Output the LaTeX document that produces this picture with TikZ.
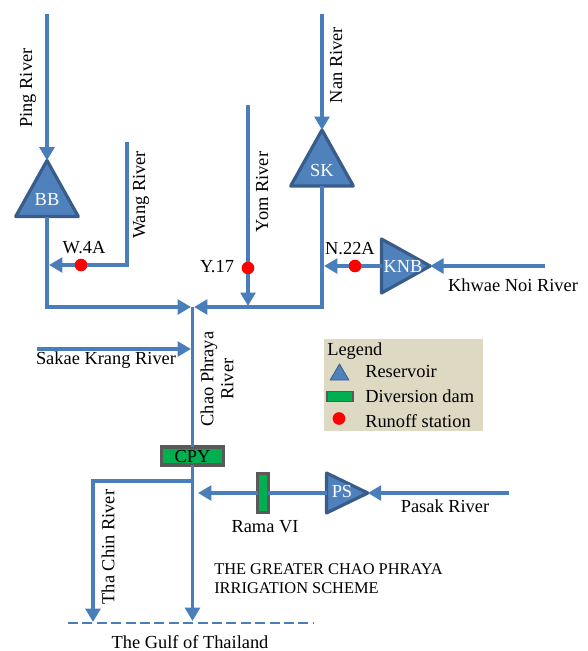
\documentclass[tikz,border=0pt]{standalone}
\usepackage{fontspec}
\setmainfont{Liberation Serif}
\usetikzlibrary{arrows.meta,shapes.geometric}
\definecolor{riverblue}{HTML}{4A7EBB}
\definecolor{resfill}{HTML}{4F81BD}
\definecolor{resedge}{HTML}{385D8A}
\definecolor{damgreen}{HTML}{00B050}
\definecolor{damedge}{HTML}{595959}
\definecolor{legendbg}{HTML}{DDD9C3}
\tikzset{
  river/.style={draw=riverblue, line width=2.6pt, line join=miter},
  flow/.style={river, -{Triangle[length=10pt,width=11pt]}},
  reservoir/.style={isosceles triangle, isosceles triangle stretches,
    draw=resedge, fill=resfill, line width=2.4pt, line join=round, inner sep=0pt, outer sep=0pt},
  damblock/.style={rectangle, draw=damedge, fill=damgreen, line width=2.4pt, inner sep=0pt, outer sep=0pt,
    font=\fontsize{13.8}{15}\selectfont},
  station/.style={circle, fill=red, inner sep=0pt, outer sep=0pt, minimum size=9.5pt},
  lbl/.style={font=\fontsize{13.8}{15}\selectfont, inner sep=0pt},
  reslbl/.style={lbl, text=white},
}
\begin{document}
\begin{tikzpicture}[x=0.75pt,y=-0.75pt]
  \useasboundingbox (0,0) rectangle (587,651);
  % legend
  \node[fill=legendbg, minimum width=119.25pt, minimum height=69pt, inner sep=0pt] (legendbox) at (403.5,385) {};
  \node[lbl, anchor=west] (legendtitle) at (327,351) {Legend};
  \node[reservoir, minimum width=14pt, minimum height=12pt, line width=0.6pt, anchor=lower side, shape border rotate=90] (legres) at (339.5,380) {};
  \node[damblock, minimum width=19.5pt, minimum height=7.5pt, line width=1pt] (legdam) at (340,396.5) {};
  \node[station] (legrun) at (339,418.5) {};
  \node[lbl, anchor=west] (legrestext) at (365,371) {Reservoir};
  \node[lbl, anchor=west] (legdamtext) at (365,396) {Diversion dam};
  \node[lbl, anchor=west] (legruntext) at (365,421) {Runoff station};
  % reservoirs
  \node[reservoir, shape border rotate=90, minimum width=47pt, minimum height=42pt, anchor=lower side] (BB) at (47,216.5) {};
  \node[reservoir, shape border rotate=90, minimum width=47pt, minimum height=42pt, anchor=lower side] (SK) at (322,186) {};
  \node[reservoir, minimum width=40.5pt, minimum height=36.5pt, anchor=lower side] (KNB) at (381.5,266) {};
  \node[reservoir, minimum width=30pt, minimum height=31pt, anchor=lower side] (PS) at (326.5,493) {};
  \node[reslbl] (BBlbl) at (47,199) {BB};
  \node[reslbl] (SKlbl) at (322,170) {SK};
  \node[reslbl] (KNBlbl) at (403,266) {KNB};
  \node[reslbl] (PSlbl) at (342,491) {PS};
  % dams and stations
  \node[damblock, minimum width=46pt, minimum height=13.5pt] (CPY) at (192.5,456) {CPY};
  \node[damblock, minimum width=8pt, minimum height=29pt] (RamaVI) at (263,493) {};
  \node[station] (W4A) at (81,265) {};
  \node[station] (Y17) at (248,268) {};
  \node[station] (N22A) at (355,266) {};
  % free ends
  \coordinate (pingtop) at (47,14);
  \coordinate (nantop) at (322,14);
  \coordinate (wangtop) at (127,142);
  \coordinate (wangbend) at (127,265);
  \coordinate (wangend) at (49,265);
  \coordinate (yomtop) at (248,105);
  \coordinate (yomend) at (248,306);
  \coordinate (bbbend) at (47,307);
  \coordinate (skbend) at (322,307);
  \coordinate (jleft) at (191,307);
  \coordinate (jright) at (194,307);
  \coordinate (cprtop) at (192.5,307);
  \coordinate (knbend) at (324,266);
  \coordinate (khwae) at (545,266);
  \coordinate (sakae) at (37,349);
  \coordinate (sakaeend) at (191,349);
  \coordinate (split) at (192.5,481);
  \coordinate (thachin) at (93,481);
  \coordinate (thaend) at (93,622);
  \coordinate (cprend) at (192.5,621);
  \coordinate (ramaend) at (198,493);
  \coordinate (pasak) at (509,493);
  \coordinate (gulfl) at (68,623);
  \coordinate (gulfr) at (313,623);
  % rivers
  \draw[flow] (pingtop) -- (BB.apex);
  \draw[flow] (nantop) -- (SK.apex);
  \draw[flow] (khwae) -- (KNB.apex);
  \draw[flow] (pasak) -- (PS.apex);
  \draw[flow] (BB.lower side) -- (bbbend) -- (jleft);
  \draw[flow] (SK.lower side) -- (skbend) -- (jright);
  \draw[river] (wangtop) -- (wangbend) -- (W4A);
  \draw[flow] (W4A) -- (wangend);
  \draw[river] (yomtop) -- (Y17);
  \draw[flow] (Y17) -- (yomend);
  \draw[river] (KNB.lower side) -- (N22A);
  \draw[flow] (N22A) -- (knbend);
  \draw[flow] (sakae) -- (sakaeend);
  \draw[river] (cprtop) -- (CPY);
  \draw[flow] (CPY) -- (cprend);
  \draw[flow] (split) -- (thachin) -- (thaend);
  \draw[river] (PS.lower side) -- (RamaVI);
  \draw[flow] (RamaVI) -- (ramaend);
  \draw[river, dash pattern=on 7.5pt off 3.3pt, line width=2.2pt] (gulfl) -- (gulfr);
  % labels
  \node[lbl, rotate=90] (pinglbl) at (28,88) {Ping River};
  \node[lbl, rotate=90] (nanlbl) at (336,65) {Nan River};
  \node[lbl, rotate=90] (wanglbl) at (141,195) {Wang River};
  \node[lbl, rotate=90] (yomlbl) at (262,192) {Yom River};
  \node[lbl, rotate=90, align=center] (chaolbl) at (217,379) {Chao Phraya\\River};
  \node[lbl, rotate=90] (thalbl) at (108,547) {Tha Chin River};
  \node[lbl] (w4albl) at (84,248) {W.4A};
  \node[lbl] (y17lbl) at (217,267) {Y.17};
  \node[lbl] (n22albl) at (350,249) {N.22A};
  \node[lbl] (khwaelbl) at (513,285) {Khwae Noi River};
  \node[lbl] (sakaelbl) at (106,360) {Sakae Krang River};
  \node[lbl] (ramalbl) at (265,527) {Rama VI};
  \node[lbl] (pasaklbl) at (445,506) {Pasak River};
  \node[lbl, font=\fontsize{12.3}{14}\selectfont, anchor=west] (schemelbl) at (214,569) {THE GREATER CHAO PHRAYA};
  \node[lbl, font=\fontsize{12.3}{14}\selectfont, anchor=west] (schemelblb) at (214,588) {IRRIGATION SCHEME};
  \node[lbl] (gulflbl) at (190,642) {The Gulf of Thailand};
\end{tikzpicture}
\end{document}
